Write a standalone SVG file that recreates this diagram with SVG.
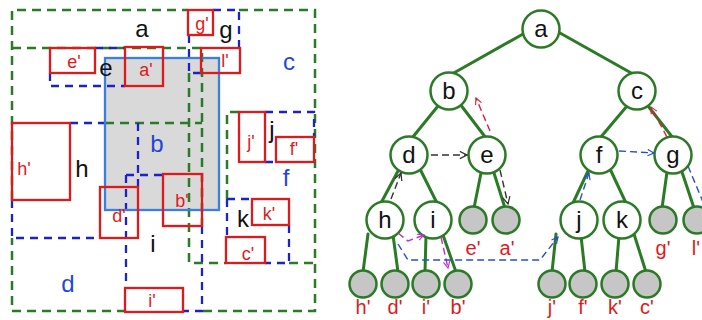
<svg xmlns="http://www.w3.org/2000/svg" width="702" height="320" viewBox="0 0 702 320">
<defs>
  <marker id="arrRed" viewBox="0 0 10 10" refX="9" refY="5" markerWidth="8" markerHeight="8" orient="auto" markerUnits="userSpaceOnUse">
    <path d="M1,1 L9,5 L1,9" fill="none" stroke="#d8203c" stroke-width="1.4"/>
  </marker>
  <marker id="arrBlack" viewBox="0 0 10 10" refX="9" refY="5" markerWidth="9" markerHeight="9" orient="auto" markerUnits="userSpaceOnUse">
    <path d="M1,1 L9,5 L1,9" fill="none" stroke="#333" stroke-width="1.4"/>
  </marker>
  <marker id="arrMag" viewBox="0 0 10 10" refX="9" refY="5" markerWidth="8" markerHeight="8" orient="auto" markerUnits="userSpaceOnUse">
    <path d="M1,1 L9,5 L1,9" fill="none" stroke="#c030c8" stroke-width="1.4"/>
  </marker>
  <marker id="arrBlue" viewBox="0 0 10 10" refX="9" refY="5" markerWidth="8" markerHeight="8" orient="auto" markerUnits="userSpaceOnUse">
    <path d="M1,1 L9,5 L1,9" fill="none" stroke="#2a4cd0" stroke-width="1.4"/>
  </marker>
</defs>
<style>
  .gdash { fill: none; stroke: #2b7a25; stroke-width: 2.5; stroke-dasharray: 9 6; }
  .bdash { fill: none; stroke: #1c22c8; stroke-width: 2.3; stroke-dasharray: 8 6; }
  .obj { fill: none; stroke: #e01a1c; stroke-width: 2.3; }
  .query { fill: #d9d9d9; }
  .qedge { fill: none; stroke: #3b7fe0; stroke-width: 2.3; }
  text { font-family: "Liberation Sans", Arial, sans-serif; text-anchor: middle; }
  .big { font-size: 24px; fill: #111; }
  .bigb { font-size: 24px; fill: #2446d8; }
  .lab { font-size: 18px; fill: #e01a1c; }
  .edge { stroke: #2b7a25; stroke-width: 3; fill: none; stroke-linecap: round; }
  .inner { fill: #fff; stroke: #2b7a25; stroke-width: 2.5; }
  .leaf { fill: #c6c6c6; stroke: #2b7a25; stroke-width: 2.5; }
  .nlab { font-size: 24px; fill: #111; }
  .llab { font-size: 20px; fill: #e01a1c; }
  .tr { fill: none; stroke-width: 1.4; stroke-dasharray: 7 4; }
</style>

<!-- left panel: spatial layout of the hierarchy -->
<g id="space">
  <rect class="query" x="105" y="58" width="114" height="152"/>

  <!-- internal-node regions (green dashed) -->
  <g id="region-green">
    <path class="gdash" d="M12,200 V10 H188 M239,10 H315 V311 H202 M126,311 H12 V238"/>
    <path class="gdash" d="M12,48 H202 V226"/>
    <path class="gdash" d="M105,123 H202"/>
    <path class="gdash" d="M189,73 V263 H226 M289,263 H315"/>
    <path class="gdash" d="M227,199 V112 H239"/>
  </g>

  <!-- leaf-parent regions (blue dashed) -->
  <g id="region-blue">
    <path class="bdash" d="M95,48 H125 M50,73 V86 H125"/>
    <path class="bdash" d="M213,10 H239 V48 M189,35 V73 H201"/>
    <path class="bdash" d="M70,123 H105 M138,123 V187 M12,200 V238 H100"/>
    <path class="bdash" d="M126,175 H163 M126,175 V288 M202,226 V311 H183"/>
    <path class="bdash" d="M265,112 H314 V137 M265,162 H276"/>
    <path class="bdash" d="M227,199 H252 M227,199 V237 M289,225 V263 H265"/>
  </g>

  <rect class="qedge" x="105" y="58" width="114" height="152"/>

  <!-- primitives -->
  <g id="objects">
    <rect class="obj" x="50" y="48" width="45" height="25"/>
    <rect class="obj" x="125" y="47" width="38" height="39"/>
    <rect class="obj" x="188" y="10" width="25" height="25"/>
    <rect class="obj" x="201" y="48" width="39" height="25"/>
    <rect class="obj" x="12" y="123" width="58" height="77"/>
    <rect class="obj" x="100" y="187" width="38" height="51"/>
    <rect class="obj" x="163" y="174" width="39" height="52"/>
    <rect class="obj" x="125" y="288" width="58" height="24"/>
    <rect class="obj" x="239" y="112" width="26" height="50"/>
    <rect class="obj" x="276" y="137" width="38" height="25"/>
    <rect class="obj" x="252" y="199" width="37" height="26"/>
    <rect class="obj" x="226" y="237" width="39" height="26"/>
  </g>

  <g id="space-labels">
    <text class="big" x="142" y="37">a</text>
    <text class="bigb" x="289" y="70">c</text>
    <text class="bigb" x="157" y="152">b</text>
    <text class="bigb" x="68" y="292">d</text>
    <text class="bigb" x="286" y="186">f</text>
    <text class="big" x="106" y="76">e</text>
    <text class="big" x="226" y="38">g</text>
    <text class="big" x="82" y="177">h</text>
    <text class="big" x="153" y="252">i</text>
    <text class="big" x="272" y="138">j</text>
    <text class="big" x="243" y="227">k</text>
    <text class="lab" x="74" y="68">e'</text>
    <text class="lab" x="146" y="76">a'</text>
    <text class="lab" x="202" y="30">g'</text>
    <text class="lab" x="225" y="67">l'</text>
    <text class="lab" x="24" y="175">h'</text>
    <text class="lab" x="119" y="222">d'</text>
    <text class="lab" x="182" y="207">b'</text>
    <text class="lab" x="152" y="307">i'</text>
    <text class="lab" x="251" y="148">j'</text>
    <text class="lab" x="294" y="155">f'</text>
    <text class="lab" x="269" y="220">k'</text>
    <text class="lab" x="248" y="260">c'</text>
  </g>
</g>

<!-- right panel: the tree -->
<g id="edges">
  <line class="edge" x1="523" y1="34" x2="452" y2="74"/>
  <line class="edge" x1="560" y1="33" x2="633" y2="74"/>
  <line class="edge" x1="438" y1="106" x2="412" y2="138"/>
  <line class="edge" x1="460" y1="104" x2="486" y2="138"/>
  <line class="edge" x1="627" y1="106" x2="600" y2="138"/>
  <line class="edge" x1="648" y1="106" x2="673" y2="138"/>
  <line class="edge" x1="398" y1="171" x2="381" y2="203"/>
  <line class="edge" x1="421" y1="171" x2="437" y2="203"/>
  <line class="edge" x1="481" y1="173" x2="474" y2="208"/>
  <line class="edge" x1="494" y1="173" x2="505" y2="208"/>
  <line class="edge" x1="588" y1="171" x2="573" y2="203"/>
  <line class="edge" x1="611" y1="171" x2="626" y2="203"/>
  <line class="edge" x1="667" y1="172" x2="662" y2="208"/>
  <line class="edge" x1="682" y1="172" x2="694" y2="208"/>
  <line class="edge" x1="368" y1="234" x2="363" y2="272"/>
  <line class="edge" x1="393" y1="235" x2="398" y2="272"/>
  <line class="edge" x1="426" y1="236" x2="425" y2="272"/>
  <line class="edge" x1="443" y1="235" x2="456" y2="272"/>
  <line class="edge" x1="556" y1="234" x2="552" y2="272"/>
  <line class="edge" x1="581" y1="236" x2="585" y2="272"/>
  <line class="edge" x1="619" y1="236" x2="616" y2="272"/>
  <line class="edge" x1="634" y1="234" x2="646" y2="272"/>
</g>

<g id="node-a"><circle class="inner" cx="541" cy="29" r="18.5"/><text class="nlab" x="541" y="37">a</text></g>
<g id="node-b"><circle class="inner" cx="449" cy="91" r="18.5"/><text class="nlab" x="449" y="99">b</text></g>
<g id="node-c"><circle class="inner" cx="637" cy="91" r="18.5"/><text class="nlab" x="637" y="99">c</text></g>
<g id="node-d"><circle class="inner" cx="409" cy="155" r="18.5"/><text class="nlab" x="409" y="163">d</text></g>
<g id="node-e"><circle class="inner" cx="487" cy="155" r="18.5"/><text class="nlab" x="487" y="163">e</text></g>
<g id="node-f"><circle class="inner" cx="599" cy="155" r="18.5"/><text class="nlab" x="599" y="163">f</text></g>
<g id="node-g"><circle class="inner" cx="673" cy="155" r="18.5"/><text class="nlab" x="673" y="163">g</text></g>
<g id="node-h"><circle class="inner" cx="385" cy="220" r="18.5"/><text class="nlab" x="385" y="228">h</text></g>
<g id="node-i"><circle class="inner" cx="433" cy="220" r="18.5"/><text class="nlab" x="433" y="228">i</text></g>
<g id="node-j"><circle class="inner" cx="579" cy="220" r="18.5"/><text class="nlab" x="579" y="228">j</text></g>
<g id="node-k"><circle class="inner" cx="622" cy="220" r="18.5"/><text class="nlab" x="622" y="228">k</text></g>

<g id="leaf-e1"><circle class="leaf" cx="473" cy="220" r="13.5"/><text class="llab" x="473" y="255">e'</text></g>
<g id="leaf-a1"><circle class="leaf" cx="506" cy="220" r="13.5"/><text class="llab" x="507" y="255">a'</text></g>
<g id="leaf-g1"><circle class="leaf" cx="663" cy="220" r="13.5"/><text class="llab" x="663" y="255">g'</text></g>
<g id="leaf-l1"><circle class="leaf" cx="697" cy="220" r="13.5"/><text class="llab" x="696" y="255">l'</text></g>
<g id="leaf-h1"><circle class="leaf" cx="363" cy="284" r="13.5"/><text class="llab" x="363" y="314">h'</text></g>
<g id="leaf-d1"><circle class="leaf" cx="395" cy="284" r="13.5"/><text class="llab" x="395" y="314">d'</text></g>
<g id="leaf-i1"><circle class="leaf" cx="426" cy="284" r="13.5"/><text class="llab" x="426" y="314">i'</text></g>
<g id="leaf-b1"><circle class="leaf" cx="458" cy="284" r="13.5"/><text class="llab" x="458" y="314">b'</text></g>
<g id="leaf-j1"><circle class="leaf" cx="552" cy="284" r="13.5"/><text class="llab" x="552" y="314">j'</text></g>
<g id="leaf-f1"><circle class="leaf" cx="583" cy="284" r="13.5"/><text class="llab" x="583" y="314">f'</text></g>
<g id="leaf-k1"><circle class="leaf" cx="615" cy="284" r="13.5"/><text class="llab" x="615" y="314">k'</text></g>
<g id="leaf-c1"><circle class="leaf" cx="647" cy="284" r="13.5"/><text class="llab" x="647" y="314">c'</text></g>

<!-- traversal order -->
<g id="traversal">
  <path class="tr" stroke="#d8203c" stroke-dasharray="7 3 2 3" d="M490,131 L476,98" marker-end="url(#arrRed)"/>
  <path class="tr" stroke="#d8203c" stroke-dasharray="7 3 2 3" d="M667,137 L651,107" marker-end="url(#arrRed)"/>
  <path class="tr" stroke="#333" d="M431,155 L467,155" marker-end="url(#arrBlack)"/>
  <path class="tr" stroke="#333" d="M391,199 L401,173" marker-end="url(#arrBlack)"/>
  <path class="tr" stroke="#333" d="M500,170 L508,204" marker-end="url(#arrBlack)"/>
  <path class="tr" stroke="#c030c8" d="M398,233 L408,241 L424,235" marker-end="url(#arrMag)"/>
  <path class="tr" stroke="#c030c8" d="M441,237 L448,268" marker-end="url(#arrMag)"/>
  <path class="tr" stroke="#2a4cd0" stroke-dasharray="9 6" d="M398,244 L408,260 L540,260 L558,237" marker-end="url(#arrBlue)"/>
  <path class="tr" stroke="#2a4cd0" d="M580,200 L589,173" marker-end="url(#arrBlue)"/>
  <path class="tr" stroke="#2a4cd0" stroke-dasharray="9 6" d="M619,151 L654,153" marker-end="url(#arrBlue)"/>
  <path class="tr" stroke="#2a4cd0" d="M688,166 L703,202"/>
</g>
</svg>
